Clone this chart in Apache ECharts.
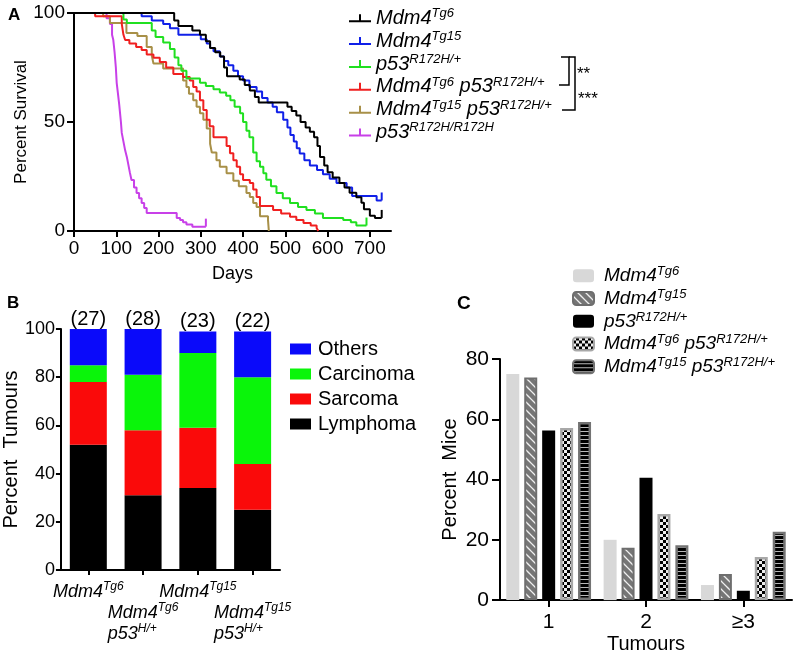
<!DOCTYPE html>
<html><head><meta charset="utf-8">
<script src="https://cdn.jsdelivr.net/npm/echarts@6/dist/echarts.min.js"></script>
<style>html,body{margin:0;padding:0;background:#fff}#c{width:800px;height:655px}</style>
</head><body><div id="c"></div>
<script>
const FONT = '"Liberation Sans", Arial, sans-serif';

// ---------- Panel A: Kaplan-Meier survival [day, percent] ----------
const survMdm4Tg6 = [[0,100],[237,96.6],[247,94],[280,92],[298,90],[312,87],[322,84],[334,82],[346,80],[355,75],[362,71],[392,69.5],[404,67],[416,64.5],[428,61.5],[437,59],[505,57],[515,55],[526,53],[536,50],[548,47.5],[558,45.5],[568,43],[576,39],[582,34],[592,30],[600,27],[612,24.5],[628,22],[640,20],[652,17.5],[668,15.5],[680,13],[686,10],[700,7],[712,6],[728,6]];
const survMdm4Tg15 = [[0,100],[160,98.5],[184,96.6],[211,95],[227,93],[247,90],[300,88],[314,86],[322,84],[330,82.5],[345,80],[355,78],[365,76],[377,73.5],[388,71],[400,69],[415,66],[432,64],[445,61],[458,59],[470,57],[480,54.5],[495,51],[505,47.5],[512,44],[520,41],[527,38],[534,35.5],[545,32.5],[558,30],[575,28],[589,26],[605,24],[621,22],[645,20],[658,16],[716,14],[728,14]];
const survP53Het = [[0,100],[117,97],[125,95.4],[184,92],[193,89],[211,86.5],[227,83.5],[238,79.6],[247,76],[254,73.5],[266,70],[298,68],[312,66.5],[330,65],[345,63.5],[360,62],[370,60],[380,57],[393,54],[400,50],[408,46],[415,43],[424,36],[432,32],[440,29.5],[448,26.5],[455,23.5],[466,20.5],[479,17.4],[494,15],[511,12.8],[530,11],[550,9.6],[570,8],[589,6],[637,5],[655,4],[668,2.5],[692,2.5]];
const survTg6P53 = [[0,100],[50,98.5],[113,95],[117,90],[121,87.6],[131,86],[147,84.4],[160,83],[172,81],[188,79.5],[203,77.5],[218,75],[235,72],[258,70.6],[274,69],[282,66],[290,64],[298,60],[306,55.5],[314,51],[321,48],[330,43],[361,39],[369,35.7],[377,32.5],[385,29.5],[393,26],[400,23.4],[416,22],[424,19],[432,15.6],[440,11.5],[471,9.6],[490,8],[511,6.5],[526,5],[543,3.7],[560,2.5],[574,1.4],[578,0]];
const survTg15P53 = [[0,100],[69,98.5],[85,95.4],[124,90.8],[150,89.5],[172,84.4],[184,80.5],[188,76.8],[211,74.5],[258,69],[266,66],[272,63],[282,60],[290,57],[298,54],[306,51],[314,47],[322,40],[326,36],[337,32.5],[345,29.5],[361,26.5],[377,23],[390,20.5],[408,17.4],[416,15.6],[424,12.8],[432,11],[440,6.8],[459,5],[461,0]];
const survP53Hom = [[0,100],[77,97.6],[85,95],[90,90],[93,87.6],[96,82],[99,75],[101,68],[104,63],[107,58],[109,54],[111,50],[113,45],[117,41],[121,37],[125,34],[128,31],[132,27],[136,23.4],[142,20],[148,17.4],[154,15],[160,12.8],[166,10.5],[172,8.3],[243,6],[251,5],[258,4],[266,3],[280,2],[312,2]];
const survivalNames = ['Mdm4Tg6','Mdm4Tg15','p53R172H/+','Mdm4Tg6 p53R172H/+','Mdm4Tg15 p53R172H/+','p53R172H/R172H'];
const survivalColors = ['#000000','#1020e8','#20e020','#f02020','#a89048','#c840e8'];
const survivalCensorEnd = [true, true, true, false, false, true];
const daysTicks = [0,100,200,300,400,500,600,700];

// ---------- Panel B: tumour spectrum (percent) ----------
const tumourGroups = ['Mdm4Tg6','Mdm4Tg6|p53H/+','Mdm4Tg15','Mdm4Tg15|p53H/+'];
const tumourCounts = [27, 28, 23, 22];
const lymphoma  = [52, 31, 34, 25];
const sarcoma   = [26, 27, 25, 19];
const carcinoma = [7, 23, 31, 36];
const others    = [15, 19, 9, 19];
const tumourTypeNames = ['Lymphoma','Sarcoma','Carcinoma','Others'];

// ---------- Panel C: tumours per mouse (percent mice) ----------
const tumourNumbers = ['1','2','≥3'];
const miceMdm4Tg6      = [75, 20, 5];
const miceMdm4Tg15     = [73.9, 17.4, 8.7];
const miceP53Het       = [56.3, 40.6, 3.1];
const miceTg6P53       = [57.1, 28.6, 14.3];
const miceTg15P53      = [59.1, 18.2, 22.7];
const miceNames = ['Mdm4Tg6','Mdm4Tg15','p53R172H/+','Mdm4Tg6 p53R172H/+','Mdm4Tg15 p53R172H/+'];

// rich text: gene + superscript
function sup(name) {
  return name.split(' ').map(w => {
    const m = w.match(/^(Mdm4|p53)(.*)$/);
    return m ? '{i|' + m[1] + '}{s|' + m[2] + '}' : '{i|' + w + '}';
  }).join('{i| }');
}

function pat(w, h, draw) {
  const c = document.createElement('canvas');
  c.width = w; c.height = h;
  draw(c.getContext('2d'), w, h);
  return { image: c, repeat: 'repeat' };
}
const stripePat = pat(8, 8, (g) => {
  g.fillStyle = '#f0f0f0'; g.fillRect(0, 0, 8, 8);
  g.strokeStyle = '#767676'; g.lineWidth = 4.4;
  for (const c of [-8, 0, 8]) { g.beginPath(); g.moveTo(-2, -2 + c); g.lineTo(10, 10 + c); g.stroke(); }
});
const checkPat = pat(6, 6, (g) => {
  g.fillStyle = '#000'; g.fillRect(0, 0, 6, 6);
  g.fillStyle = '#eeeeee'; g.fillRect(0, 0, 3, 3); g.fillRect(3, 3, 3, 3);
});
const hstripePat = pat(4, 4, (g) => {
  g.fillStyle = '#000'; g.fillRect(0, 0, 4, 4);
  g.fillStyle = '#b8b8b8'; g.fillRect(0, 3, 4, 1);
});
const miceStyles = [
  { color: '#d8d8d8', borderWidth: 0 },
  { color: stripePat, borderColor: '#6e6e6e', borderWidth: 2 },
  { color: '#000000', borderWidth: 0 },
  { color: checkPat, borderColor: '#a8a8a8', borderWidth: 2.5 },
  { color: hstripePat, borderColor: '#737373', borderWidth: 2.5 }
];
const miceData = [miceMdm4Tg6, miceMdm4Tg15, miceP53Het, miceTg6P53, miceTg15P53];

const axisLineStyle = { lineStyle: { color: '#000', width: 2 } };
const tickStyle = (len) => ({ show: true, length: len, lineStyle: { color: '#000', width: 2 } });

const chart = echarts.init(document.getElementById('c'), null, { renderer: 'canvas' });

const series = [];
survivalNames.forEach((n, k) => {
  const src = [survMdm4Tg6, survMdm4Tg15, survP53Het, survTg6P53, survTg15P53, survP53Hom][k];
  const data = src.map((p, j) => {
    if (j === src.length - 1 && survivalCensorEnd[k]) {
      return { value: p, symbol: 'rect', symbolSize: [2, 8], symbolOffset: [0, -4] };
    }
    return { value: p };
  });
  series.push({
    type: 'line', name: 'A:' + n, xAxisIndex: 0, yAxisIndex: 0, step: 'end',
    symbol: 'none', showSymbol: true, silent: true, animation: false,
    color: survivalColors[k], itemStyle: { color: survivalColors[k] },
    lineStyle: { width: 2, color: survivalColors[k] },
    data: data, z: 10 - k
  });
});
const bColors = ['#000000', '#fa0a0a', '#0af50a', '#0a0afa'];
[lymphoma, sarcoma, carcinoma, others].forEach((arr, k) => {
  series.push({
    type: 'bar', name: tumourTypeNames[k], xAxisIndex: 1, yAxisIndex: 1, stack: 'tum',
    barWidth: 37, animation: false, itemStyle: { color: bColors[k] },
    label: k === 3 ? { show: true, position: 'top', distance: 0, fontFamily: FONT, fontSize: 20, color: '#000',
      formatter: (p) => '(' + tumourCounts[p.dataIndex] + ')' } : { show: false },
    data: arr
  });
});
miceNames.forEach((n, k) => {
  series.push({
    type: 'bar', name: 'C:' + n, xAxisIndex: 2, yAxisIndex: 2,
    barWidth: 13, barGap: '38%', animation: false,
    itemStyle: miceStyles[k], data: miceData[k]
  });
});

const richItal = (fs, ss, lh) => ({
  i: { fontFamily: FONT, fontSize: fs, fontStyle: 'italic', lineHeight: lh, color: '#000' },
  s: { fontFamily: FONT, fontSize: ss, fontStyle: 'italic', lineHeight: Math.round(ss * 0.9), verticalAlign: 'top', color: '#000' }
});

const option = {
  backgroundColor: '#ffffff',
  animation: false,
  title: [
    { text: 'A', left: 3, top: 2, textStyle: { fontFamily: FONT, fontSize: 17, fontWeight: 'bold', color: '#000' } },
    { text: 'B', left: 2, top: 290, textStyle: { fontFamily: FONT, fontSize: 17, fontWeight: 'bold', color: '#000' } },
    { text: 'C', left: 452, top: 289, textStyle: { fontFamily: FONT, fontSize: 19, fontWeight: 'bold', color: '#000' } }
  ],
  grid: [
    { left: 74, top: 13, width: 317, height: 218 },
    { left: 57, top: 329, width: 223, height: 241 },
    { left: 500, top: 359, width: 292, height: 248 }
  ],
  legend: [
    {
      data: survivalNames.map(n => 'A:' + n), orient: 'vertical', left: 344, top: 2,
      itemWidth: 22, itemHeight: 8, itemGap: 1.6, selectedMode: false,
      icon: 'path://M0,8 L22,8 L22,10 L0,10 Z M10,2 L12,2 L12,8 L10,8 Z',
      itemStyle: { borderWidth: 0 },
      formatter: (name) => sup(name.slice(2)),
      textStyle: { fontFamily: FONT, fontSize: 20, fontStyle: 'italic', color: '#000', rich: richItal(20, 13, 22.5) }
    },
    {
      data: ['Others', 'Carcinoma', 'Sarcoma', 'Lymphoma'], orient: 'vertical', left: 285, top: 334,
      itemWidth: 21, itemHeight: 11, itemGap: 5, selectedMode: false, icon: 'rect',
      textStyle: { fontFamily: FONT, fontSize: 20, color: '#000', padding: [0, 0, 0, 2] }
    },
    {
      data: miceNames.map(n => 'C:' + n), orient: 'vertical', left: 567, top: 260,
      itemWidth: 21, itemHeight: 13, itemGap: 2.5, selectedMode: false, icon: 'roundRect',
      formatter: (name) => sup(name.slice(2)),
      textStyle: { fontFamily: FONT, fontSize: 19, fontStyle: 'italic', color: '#000', padding: [0, 0, 0, 5], rich: richItal(19, 13, 21.5) }
    }
  ],
  xAxis: [
    {
      type: 'value', gridIndex: 0, min: 0, max: 750, interval: 100,
      name: 'Days', nameLocation: 'middle', nameGap: 34,
      nameTextStyle: { fontFamily: FONT, fontSize: 18, color: '#000' },
      axisLine: axisLineStyle, axisTick: Object.assign(tickStyle(6), { customValues: daysTicks }),
      axisLabel: { customValues: daysTicks, fontFamily: FONT, fontSize: 19, color: '#000', margin: 8 },
      splitLine: { show: false }
    },
    {
      type: 'category', gridIndex: 1, data: tumourGroups,
      axisLine: axisLineStyle, axisTick: Object.assign(tickStyle(5), { alignWithLabel: true }),
      axisLabel: {
        interval: 0, margin: 11, color: '#000',
        formatter: (v, idx) => {
          const parts = v.split('|');
          const lines = parts.map(sup);
          return (idx % 2 === 1 ? '{e| }\n' : '') + lines.join('\n');
        },
        rich: {
          e: { fontFamily: FONT, fontSize: 18, lineHeight: 21, align: 'left' },
          i: { fontFamily: FONT, fontSize: 18, fontStyle: 'italic', lineHeight: 21, align: 'left', color: '#000' },
          s: { fontFamily: FONT, fontSize: 12, fontStyle: 'italic', lineHeight: 11, verticalAlign: 'top', align: 'left', color: '#000' }
        }
      },
      splitLine: { show: false }
    },
    {
      type: 'category', gridIndex: 2, data: tumourNumbers,
      name: 'Tumours', nameLocation: 'middle', nameGap: 30,
      nameTextStyle: { fontFamily: FONT, fontSize: 20, color: '#000' },
      axisLine: axisLineStyle, axisTick: Object.assign(tickStyle(7), { alignWithLabel: true }),
      axisLabel: { fontFamily: FONT, fontSize: 21, color: '#000', margin: 12 },
      splitLine: { show: false }
    }
  ],
  yAxis: [
    {
      type: 'value', gridIndex: 0, min: 0, max: 100, interval: 50,
      name: 'Percent Survival', nameLocation: 'middle', nameGap: 33,
      nameTextStyle: { fontFamily: FONT, fontSize: 17, color: '#000' },
      axisLine: Object.assign({ show: true }, axisLineStyle), axisTick: tickStyle(7),
      axisLabel: { fontFamily: FONT, fontSize: 19, color: '#000', margin: 9 },
      splitLine: { show: false }
    },
    {
      type: 'value', gridIndex: 1, min: 0, max: 100, interval: 20,
      name: 'Percent  Tumours', nameLocation: 'middle', nameGap: 31,
      nameTextStyle: { fontFamily: FONT, fontSize: 20, color: '#000' },
      axisLine: Object.assign({ show: true }, axisLineStyle), axisTick: tickStyle(5),
      axisLabel: { fontFamily: FONT, fontSize: 18, color: '#000', margin: 6 },
      splitLine: { show: false }
    },
    {
      type: 'value', gridIndex: 2, min: 0, max: 80, interval: 20,
      name: 'Percent  Mice', nameLocation: 'middle', nameGap: 40,
      nameTextStyle: { fontFamily: FONT, fontSize: 20, color: '#000' },
      axisLine: Object.assign({ show: true }, axisLineStyle), axisTick: tickStyle(8),
      axisLabel: { fontFamily: FONT, fontSize: 21, color: '#000', margin: 11 },
      splitLine: { show: false }
    }
  ],
  graphic: [
    { type: 'polyline', shape: { points: [[561, 57], [569, 57], [569, 85], [559, 85]] }, style: { stroke: '#000', lineWidth: 1.5, fill: null } },
    { type: 'polyline', shape: { points: [[569, 57], [575, 57], [575, 110], [562, 110]] }, style: { stroke: '#000', lineWidth: 1.5, fill: null } },
    { type: 'text', left: 577, top: 66, style: { text: '**', fontFamily: FONT, fontSize: 17, fill: '#000' } },
    { type: 'text', left: 578, top: 91, style: { text: '***', fontFamily: FONT, fontSize: 17, fill: '#000' } }
  ],
  series: series
};
chart.setOption(option);
</script>
</body></html>
